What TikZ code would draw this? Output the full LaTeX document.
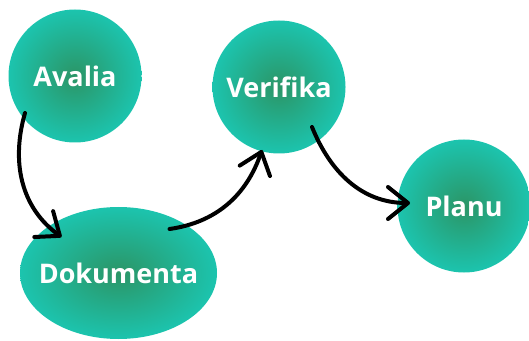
\documentclass[tikz,border=0pt]{standalone}
\usepackage{fontspec}
\setmainfont{Open Sans}
\usepackage{tikz}
\usepackage{xcolor}
\usetikzlibrary{arrows.meta,shapes.geometric}
\definecolor{core}{HTML}{2B9566}
\definecolor{rim}{HTML}{1CC4AE}

\begin{document}
\begin{tikzpicture}[x=1pt,y=1pt,
    blob/.style={circle,minimum size=133pt,inner sep=0pt,
      inner color=core,outer color=rim,
      font=\fontsize{27}{30}\selectfont\bfseries,text=white},
    link/.style={line width=4pt,line cap=round,
      -{Straight Barb[length=20pt,width=32pt,line width=4pt,round]}}]
    \useasboundingbox (0,0) rectangle (529,340);
    \node[blob] (av) at (75,264) {Avalia};
    \node[blob] (ver) at (279,253) {Verifika};
    \node[blob] (pl) at (464,134) {Planu};
    \node[blob,ellipse,inner sep=-14pt,minimum width=197pt,minimum height=132pt]
      (dok) at (118.5,67) {Dokumenta};
    \draw[link] ([shift={(-50,-37)}]av.center) to[out=-106,in=144]
      ([shift={(-57,36)}]dok.center);
    \draw[link] ([shift={(51,44)}]dok.center) to[out=8,in=-109]
      ([shift={(-17,-63)}]ver.center);
    \draw[link] ([shift={(33,-40)}]ver.center) to[out=-68,in=180]
      ([shift={(-54,3)}]pl.center);
\end{tikzpicture}
\end{document}
